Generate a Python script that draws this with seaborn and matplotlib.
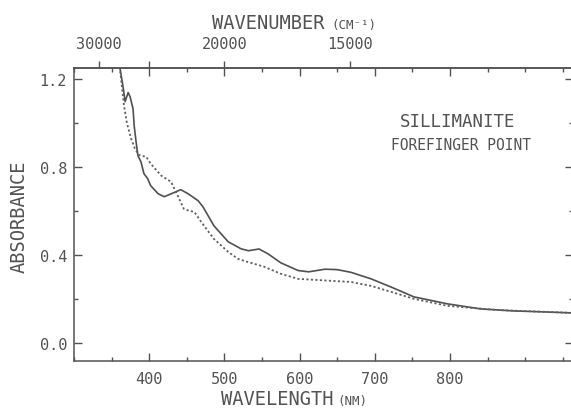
import numpy as np
import pandas as pd
import matplotlib
matplotlib.use("Agg")
import matplotlib.pyplot as plt
import seaborn as sns
from matplotlib.ticker import MultipleLocator

# Absorbance spectra of sillimanite (forefinger point), two polarisations
wavelength_solid = [357, 361, 365, 368, 372, 374.5, 378.5, 380, 382.5, 385, 389,
                    393, 398, 402, 412, 420, 429, 442, 452, 465, 471.5, 486, 505,
                    522, 532, 546, 558, 575, 598, 612, 634, 650, 668, 695, 721.5,
                    752, 797, 841, 885, 930, 962]
absorb_solid = [1.40, 1.254, 1.172, 1.099, 1.140, 1.122, 1.067, 0.990, 0.917, 0.853,
                0.825, 0.771, 0.748, 0.716, 0.679, 0.666, 0.679, 0.698, 0.679, 0.648,
                0.620, 0.534, 0.461, 0.429, 0.420, 0.428, 0.406, 0.365, 0.330, 0.324,
                0.336, 0.334, 0.322, 0.292, 0.255, 0.210, 0.178, 0.155, 0.146, 0.141,
                0.137]

wavelength_dash = [357, 361, 364, 366.5, 370.5, 376, 381, 386, 389, 396, 402, 416,
                   429, 438, 446, 453, 460, 469, 486, 505, 518, 531, 553, 575, 598,
                   642, 668, 695, 721.5, 752, 797, 864, 962]
absorb_dash = [1.40, 1.254, 1.158, 1.081, 0.999, 0.930, 0.885, 0.857, 0.853, 0.848,
               0.816, 0.762, 0.734, 0.670, 0.611, 0.602, 0.597, 0.552, 0.474, 0.415,
               0.383, 0.369, 0.347, 0.315, 0.292, 0.283, 0.278, 0.260, 0.233, 0.201,
               0.169, 0.150, 0.137]

x_ticks = [400, 500, 600, 700, 800]
y_ticks = [0.0, 0.4, 0.8, 1.2]
wn_ticks = [30000, 25000, 20000, 15000]
wn_labels = ["30000", "", "20000", "15000"]

ink = "#525252"

sns.set_theme(style="white")
plt.rcParams["font.family"] = ["DejaVu Sans Mono", "DejaVu Sans"]

W, H = 571, 410
fig = plt.figure(figsize=(W / 100, H / 100), dpi=100)
left, right, top, bottom = 74, 573, 69, 362
ax = fig.add_axes([left / W, 1 - bottom / H, (right - left) / W, (bottom - top) / H])
ax.set_facecolor("white")
fig.patch.set_facecolor("white")

solid = pd.DataFrame({"wavelength": wavelength_solid, "absorbance": absorb_solid})
dashed = pd.DataFrame({"wavelength": wavelength_dash, "absorbance": absorb_dash})

sns.lineplot(data=solid, x="wavelength", y="absorbance", ax=ax, sort=False,
             estimator=None, color="#505050", linewidth=1.2)
sns.lineplot(data=dashed, x="wavelength", y="absorbance", ax=ax, sort=False,
             estimator=None, color="#606060", linewidth=1.3,
             linestyle=(0, (1.2, 1.3)))

ax.set_xlim(300, 300 + (right - left) / 0.752)
ax.set_ylim(-0.082, 1.252)
ax.set_xlabel("")
ax.set_ylabel("")

ax.set_xticks(x_ticks)
ax.set_xticklabels([str(v) for v in x_ticks])
ax.xaxis.set_minor_locator(MultipleLocator(50))
ax.set_yticks(y_ticks)
ax.set_yticklabels([f"{v:.1f}" for v in y_ticks])
ax.yaxis.set_minor_locator(MultipleLocator(0.2))

for side in ["left", "top", "bottom"]:
    ax.spines[side].set_color(ink)
    ax.spines[side].set_linewidth(1.1)
ax.spines["right"].set_visible(False)

ax.tick_params(axis="both", which="both", direction="in", color=ink,
               labelcolor=ink, labelsize=11, width=1.0)
ax.tick_params(axis="both", which="major", length=5.5)
ax.tick_params(axis="both", which="minor", length=3)
ax.tick_params(axis="x", which="both", top=True, bottom=True, pad=7)
ax.tick_params(axis="y", which="both", left=True, right=True, pad=5)


def nm_to_wn(x):
    x = np.asarray(x, dtype=float)
    with np.errstate(divide="ignore"):
        return 1e7 / x


secax = ax.secondary_xaxis("top", functions=(nm_to_wn, nm_to_wn))
secax.set_xticks(wn_ticks)
secax.set_xticklabels(wn_labels)
secax.spines["top"].set_color(ink)
secax.spines["top"].set_linewidth(1.1)
secax.tick_params(axis="x", which="major", direction="out", length=5, width=1.0,
                  color=ink, labelcolor=ink, labelsize=11, pad=7)
secax.tick_params(axis="x", which="minor", length=0)


def px(x, y):
    return x / W, 1 - y / H


fig.text(*px(268, 29), "WAVENUMBER", ha="center", va="baseline",
         fontsize=13.5, color=ink)
fig.text(*px(331, 29), "(CM⁻¹)", ha="left", va="baseline",
         fontsize=9, color=ink)
fig.text(*px(277, 405), "WAVELENGTH", ha="center", va="baseline",
         fontsize=13.5, color=ink)
fig.text(*px(337, 405), "(NM)", ha="left", va="baseline",
         fontsize=9, color=ink)
fig.text(*px(19, 217), "ABSORBANCE", ha="center", va="center",
         rotation=90, fontsize=13.5, color=ink)
fig.text(*px(458, 122), "SILLIMANITE", ha="center", va="center",
         fontsize=12.5, color=ink)
fig.text(*px(461, 145), "FOREFINGER POINT", ha="center", va="center",
         fontsize=10.5, color=ink)

fig.savefig("out.png", dpi=100, facecolor="white")
